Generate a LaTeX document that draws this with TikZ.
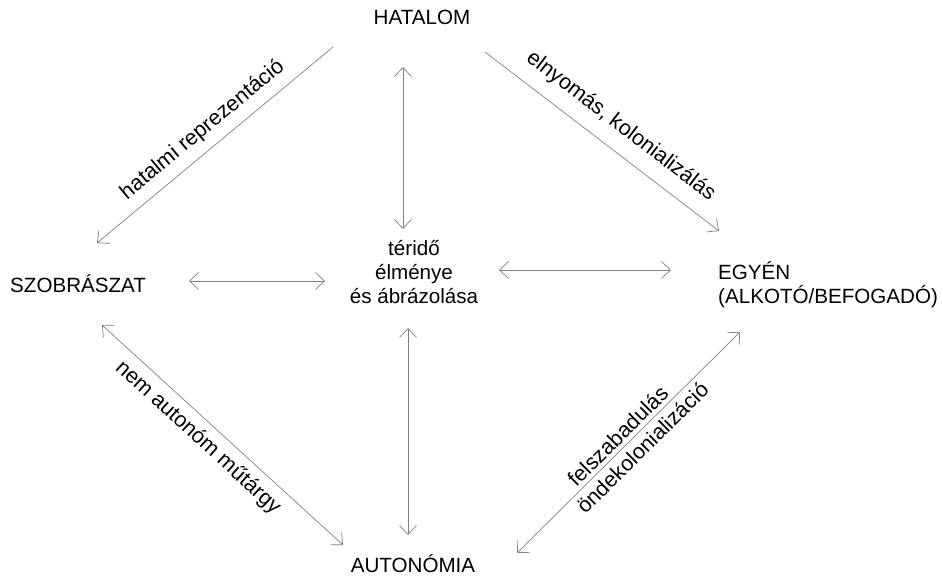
\documentclass[tikz,border=0pt]{standalone}
\usepackage{fontspec}
\setmainfont{Liberation Sans}
\usetikzlibrary{arrows.meta}
\begin{document}
\begin{tikzpicture}[x=1pt,y=-1pt,
    >={Straight Barb[length=9pt,width=17pt]},
    every node/.style={font=\fontsize{20.6}{24}\selectfont,inner sep=0pt},
    conn/.style={draw=black!50,line width=0.7pt},
    lbl/.style={sloped,pos=0.5,font=\fontsize{21.5}{24}\selectfont}]
    \useasboundingbox (0,0) rectangle (943,577);

    % fogalmak
    \node (hatalom) at (422,17) {HATALOM};
    \node[anchor=west] (szob) at (10,284) {SZOBRÁSZAT};
    \node[align=center] (terido) at (414,272) {téridő\\élménye\\és ábrázolása};
    \node[anchor=west,align=left] (egyen) at (718,285) {EGYÉN\\(ALKOTÓ/BEFOGADÓ)};
    \node (auto) at (413,564) {AUTONÓMIA};

    % nyilak vegpontjai
    \coordinate (h1) at (333,47);   \coordinate (h2) at (97,243);
    \coordinate (e1) at (485,52);   \coordinate (e2) at (719,231);
    \coordinate (n1) at (102,325);  \coordinate (n2) at (343,545);
    \coordinate (f1) at (517,553);  \coordinate (f2) at (740,332);
    \coordinate (v1) at (403,67);   \coordinate (v2) at (403,229);
    \coordinate (v3) at (408,328);  \coordinate (v4) at (408,535);
    \coordinate (s1) at (189,281);  \coordinate (s2) at (325,281);
    \coordinate (t1) at (499,270);  \coordinate (t2) at (671,270);

    % atlos nyilak, feliratokkal
    \draw[conn,->] (h1) -- node[lbl,above=9pt] (hrep) {hatalmi reprezentáció} (h2);
    \draw[conn,->] (e1) -- node[lbl,above=13pt,pos=0.52] (elny) {elnyomás, kolonializálás} (e2);
    \draw[conn,<->] (n1) -- node[lbl,below=8pt,pos=0.45] (nema) {nem autonóm műtárgy} (n2);
    \draw[conn,<->] (f1) -- node[lbl,above=4pt,pos=0.49] (felsz) {felszabadulás}
        node[lbl,below=5pt,pos=0.52] (ondek) {öndekolonializáció} (f2);

    % egyenes nyilak
    \draw[conn,<->] (v1) -- (v2);
    \draw[conn,<->] (v3) -- (v4);
    \draw[conn,<->] (s1) -- (s2);
    \draw[conn,<->] (t1) -- (t2);
\end{tikzpicture}
\end{document}
